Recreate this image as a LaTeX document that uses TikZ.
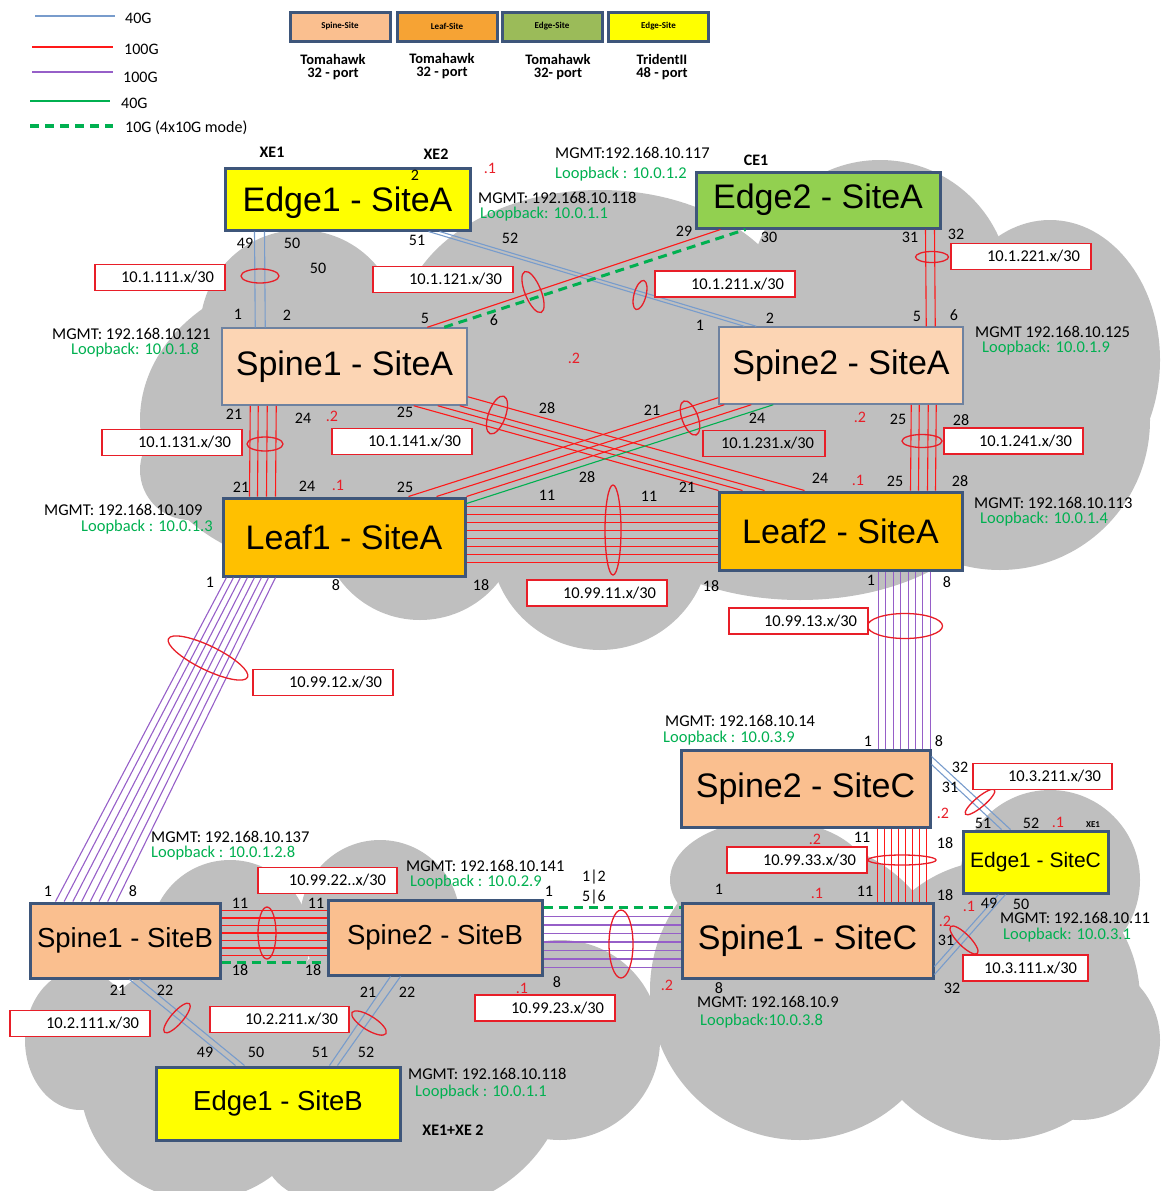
\documentclass[tikz,border=0pt]{standalone}
\usepackage{fontspec}
\setmainfont{Carlito}
\newfontfamily\devfont{Liberation Sans}
\usetikzlibrary{calc,shapes.geometric}
\definecolor{cloudgray}{RGB}{191,191,191}
\definecolor{devline}{RGB}{62,86,122}
\definecolor{devthin}{RGB}{110,130,160}
\definecolor{edgeyellow}{RGB}{255,255,0}
\definecolor{edgegreen}{RGB}{146,208,80}
\definecolor{spinelite}{RGB}{252,213,180}
\definecolor{spinepeach}{RGB}{250,191,143}
\definecolor{leaforange}{RGB}{255,192,0}
\definecolor{keyleaf}{RGB}{246,163,52}
\definecolor{keygreen}{RGB}{155,187,89}
\definecolor{link40}{RGB}{120,156,204}
\definecolor{link100}{RGB}{255,25,25}
\definecolor{linkpurple}{RGB}{150,95,200}
\definecolor{linkgreen}{RGB}{0,176,80}
\definecolor{ipred}{RGB}{232,30,40}
\definecolor{loopgreen}{RGB}{0,176,80}
\tikzset{
  dev/.style={draw=devline, line width=3pt, inner sep=0pt, font=\devfont\fontsize{34}{38}\selectfont},
  edgey/.style={dev, fill=edgeyellow},
  edgeg/.style={dev, fill=edgegreen},
  spineA/.style={dev, fill=spinelite, draw=devthin, line width=1.5pt},
  spine/.style={dev, fill=spinepeach},
  leaf/.style={dev, fill=leaforange},
  l40/.style={draw=link40, line width=1.1pt},
  l100/.style={draw=link100, line width=1.1pt},
  l100p/.style={draw=linkpurple, line width=1.1pt},
  lgreen/.style={draw=linkgreen, line width=1.1pt},
  l10g/.style={draw=linkgreen, line width=3pt, dash pattern=on 9pt off 6pt},
  bund/.style={ellipse, draw=ipred, line width=1.3pt, inner sep=0pt},
  ipbox/.style={draw=ipred, line width=1.3pt, fill=white, text width=#1, align=right,
    minimum height=26pt, inner xsep=11pt, inner ysep=0pt, font=\fontsize{16.5}{18}\selectfont},
  port/.style={inner sep=0pt, font=\fontsize{16}{18}\selectfont},
  sfx/.style={port, text=ipred},
  tag/.style={inner sep=0pt, font=\bfseries\fontsize{16}{18}\selectfont},
  mg/.style={anchor=west, inner sep=0pt, font=\fontsize{16.5}{18}\selectfont},
  lb/.style={mg, text=loopgreen},
  key/.style={anchor=west, inner sep=0pt, font=\fontsize{16}{18}\selectfont},
  keybox/.style={draw=devline, line width=3pt, minimum width=100pt, minimum height=29pt,
    inner sep=0pt, font=\bfseries\fontsize{9}{10}\selectfont},
  chip/.style={align=center, inner sep=0pt, font=\bfseries\fontsize{14.5}{13.5}\selectfont}
}

\begin{document}
\begin{tikzpicture}[x=1pt, y=-1pt]
\useasboundingbox (0,0) rectangle (1165,1191);

% clouds
\fill[cloudgray] (330,420) ellipse [x radius=190, y radius=150];
\fill[cloudgray] (300,330) circle [radius=100];
\fill[cloudgray] (190,470) circle [radius=50];
\fill[cloudgray] (420,520) circle [radius=100];
\fill[cloudgray] (520,460) circle [radius=60];
\fill[cloudgray] (600,540) circle [radius=110];
\fill[cloudgray] (600,330) ellipse [x radius=200, y radius=140];
\fill[cloudgray] (800,480) ellipse [x radius=200, y radius=120];
\fill[cloudgray] (880,290) circle [radius=130];
\fill[cloudgray] (1000,420) circle [radius=150];
\fill[cloudgray] (1050,360) ellipse [x radius=110, y radius=140];
\fill[cloudgray] (800,990) circle [radius=150];
\fill[cloudgray] (1000,1000) circle [radius=140];
\fill[cloudgray] (1050,880) circle [radius=90];
\fill[cloudgray] (770,880) ellipse [x radius=100, y radius=60];
\fill[cloudgray] (1080,1040) circle [radius=80];
\fill[cloudgray] (200,1080) circle [radius=120];
\fill[cloudgray] (420,1060) circle [radius=150];
\fill[cloudgray] (560,1040) circle [radius=100];
\fill[cloudgray] (380,920) circle [radius=80];
\fill[cloudgray] (230,940) circle [radius=80];
\fill[cloudgray] (80,1040) ellipse [x radius=55, y radius=70];
\fill[cloudgray] (320,1140) circle [radius=60];

% legend
\coordinate (k1a) at (35,16);  \coordinate (k1b) at (115,16);
\coordinate (k2a) at (32,47);  \coordinate (k2b) at (113,47);
\coordinate (k3a) at (32,72);  \coordinate (k3b) at (113,72);
\coordinate (k4a) at (30,101); \coordinate (k4b) at (110,101);
\coordinate (k5a) at (30,126); \coordinate (k5b) at (113,126);
\draw[l40, line width=2.5pt] (k1a) -- (k1b);
\draw[l100, line width=1.5pt] (k2a) -- (k2b);
\draw[l100p, line width=2.5pt] (k3a) -- (k3b);
\draw[lgreen, line width=1.5pt] (k4a) -- (k4b);
\draw[l10g, line width=4pt] (k5a) -- (k5b);
\node[key] (t1) at (125,18) {40G};
\node[key] (t2) at (124,49) {100G};
\node[key] (t3) at (123,77) {100G};
\node[key] (t4) at (121,103) {40G};
\node[key] (t5) at (125,128) {10G (4x10G mode)};

\node[keybox, fill=spinepeach] (kspine) at (340,26.5) {Spine-Site};
\node[keybox, fill=keyleaf] (kleaf) at (447,26.5) {Leaf-Site};
\node[keybox, fill=keygreen] (kedgeg) at (552,26.5) {Edge-Site};
\node[keybox, fill=edgeyellow] (kedgey) at (658.5,26.5) {Edge-Site};
\node[chip] (c1) at (333,67) {Tomahawk\\32 - port};
\node[chip] (c2) at (442,66) {Tomahawk\\32 - port};
\node[chip] (c3) at (558,67) {Tomahawk\\ 32- port};
\node[chip] (c4) at (662,67) {TridentII\\48 - port};

% devices
\node[edgey, minimum width=245pt, minimum height=62pt, text depth=0pt] (e1a) at (347.5,199) {Edge1 - SiteA};
\node[edgeg, minimum width=244pt, minimum height=56pt] (e2a) at (818,200) {Edge2 - SiteA};
\node[spineA, minimum width=245pt, minimum height=77pt] (s1a) at (344.5,366.5) {Spine1 - SiteA};
\node[spineA, minimum width=244pt, minimum height=77pt] (s2a) at (841,365.5) {Spine2 - SiteA};
\node[leaf, minimum width=242pt, minimum height=78pt] (l1a) at (344,537) {Leaf1 - SiteA};
\node[leaf, minimum width=243pt, minimum height=78pt] (l2a) at (840.5,531) {Leaf2 - SiteA};
\node[spine, minimum width=249pt, minimum height=77pt] (s2c) at (805.5,788.5) {Spine2 - SiteC};
\node[edgey, minimum width=145pt, minimum height=62pt, font=\devfont\fontsize{21}{24}\selectfont] (e1c) at (1035.5,862) {Edge1 - SiteC};
\node[spine, minimum width=251pt, minimum height=75pt] (s1c) at (807.5,940.5) {Spine1 - SiteC};
\node[spine, minimum width=190pt, minimum height=75pt, font=\devfont\fontsize{27.5}{30}\selectfont] (s1b) at (125,940.5) {Spine1 - SiteB};
\node[spine, minimum width=214pt, minimum height=75pt, font=\devfont\fontsize{27.5}{30}\selectfont] (s2b) at (435,937.5) {Spine2 - SiteB};
\node[edgey, minimum width=244pt, minimum height=73pt, font=\devfont\fontsize{27.5}{30}\selectfont] (e1b) at (278,1103.5) {Edge1 - SiteB};

% site A links
\foreach \d in {31,41}
  \draw[l40] ($(e1a.south west)+(\d,0)$) -- ($(s1a.north west)+(\d+3,0)$);
\draw[l40] ($(e1a.south west)+(205,0)$) -- ($(s2a.north west)+(26,0)$);
\draw[l40] ($(e1a.south west)+(216,0)$) -- ($(s2a.north west)+(38,0)$);
\draw[l100] ($(s1a.north west)+(206,0)$) -- ($(e2a.south west)+(26,0)$);
\draw[l10g] ($(s1a.north west)+(223,0)$) -- ($(e2a.south west)+(51,0)$);
\foreach \d in {231,240}
  \draw[l100] ($(e2a.south west)+(\d,0)$) -- ($(s2a.north west)+(\d-23,0)$);
\foreach \d in {29,37,46,55}
  \draw[l100] ($(s1a.south west)+(\d,0)$) -- ($(l1a.north west)+(\d-1,0)$);
\foreach \a/\b in {-54/1,-30/25,-8/47}
  \draw[l100] ($(s1a.south east)+(\a,0)$) -- ($(l2a.north west)+(\b,0)$);
\draw[l100] ($(s1a.south east)+(0,-9)$) -- ($(l2a.north west)+(87,0)$);
\draw[l100] ($(s2a.south west)+(0,-7)$) -- ($(l1a.north west)+(187,0)$);
\draw[l100] ($(s2a.south west)+(6,0)$) -- ($(l1a.north west)+(215,0)$);
\draw[l100] ($(s2a.south west)+(33,0)$) -- (l1a.north east);
\draw[lgreen] ($(s2a.south west)+(55,0)$) -- ($(l1a.north east)+(0,7)$);
\foreach \d in {193,201,210,218}
  \draw[l100] ($(s2a.south west)+(\d,0)$) -- ($(l2a.north west)+(\d,0)$);
\foreach \k in {0,...,7}
  \draw[l100] ($(l1a.north east)+(0,10+8*\k)$) -- ($(l2a.north west)+(0,16+8*\k)$);

% inter-site links
\foreach \k in {0,...,7}
  \draw[l100p] ($(l1a.south west)+(5+7*\k,0)$) -- ($(s1b.north west)+(27+8.7*\k,0)$);
\foreach \k in {0,...,7}
  \draw[l100p] ($(l2a.south west)+(161+7.4*\k,0)$) -- ($(s2c.north west)+(199+7.4*\k,0)$);

% site C links
\foreach \k in {0,...,7}
  \draw[l100] ($(s2c.south west)+(198+7*\k,0)$) -- ($(s1c.north west)+(197+7*\k,0)$);
\draw[l40] ($(s2c.north east)+(0,8)$) -- ($(e1c.north west)+(49,0)$);
\draw[l40] ($(s2c.north east)+(0,16)$) -- ($(e1c.north west)+(40,0)$);
\draw[l40] ($(s1c.south east)+(0,-13)$) -- ($(e1c.south west)+(37,0)$);
\draw[l40] ($(s1c.south east)+(0,-5)$) -- ($(e1c.south west)+(44,0)$);

% site B links
\foreach \k in {0,...,6}
  \draw[l100] ($(s1b.north east)+(0,9+7.5*\k)$) -- ($(s2b.north west)+(0,12+7.5*\k)$);
\draw[l10g] ($(s1b.north east)+(0,61)$) -- ($(s2b.north west)+(0,64)$);
\draw[l10g] ($(s2b.north east)+(0,9)$) -- ($(s1c.north west)+(0,6)$);
\foreach \k in {0,...,6}
  \draw[l100p] ($(s2b.north east)+(0,18+8.5*\k)$) -- ($(s1c.north west)+(0,15+8.5*\k)$);
\draw[l40] ($(s1b.south west)+(101,0)$) -- ($(e1b.north west)+(81,0)$);
\draw[l40] ($(s1b.south west)+(111,0)$) -- ($(e1b.north west)+(90,0)$);
\draw[l40] ($(s2b.south west)+(64,0)$) -- ($(e1b.north west)+(175,0)$);
\draw[l40] ($(s2b.south west)+(74,0)$) -- ($(e1b.north west)+(183,0)$);

% bundle marks
\node[bund, minimum width=38pt, minimum height=14pt] (o111) at (260,276) {};
\node[bund, minimum width=44pt, minimum height=16pt, rotate=-68] (o121) at (533,292) {};
\node[bund, minimum width=30pt, minimum height=12pt, rotate=75] (o211) at (640,295) {};
\node[bund, minimum width=33pt, minimum height=11pt] (o221) at (932,257) {};
\node[bund, minimum width=36pt, minimum height=14pt] (o131) at (265,444) {};
\node[bund, minimum width=40pt, minimum height=17pt, rotate=70] (o141) at (497,415) {};
\node[bund, minimum width=36pt, minimum height=16pt, rotate=-70] (o231) at (690,418) {};
\node[bund, minimum width=40pt, minimum height=13pt] (o241) at (922,441) {};
\node[bund, minimum width=16pt, minimum height=90pt] (o9911) at (613,530) {};
\node[bund, minimum width=88pt, minimum height=24pt, rotate=-26] (o9912) at (208,658) {};
\node[bund, minimum width=75pt, minimum height=25pt] (o9913) at (905,626) {};
\node[bund, minimum width=68pt, minimum height=10pt] (o9933) at (902,860) {};
\node[bund, minimum width=38pt, minimum height=10pt, rotate=40] (o3211) at (980,802) {};
\node[bund, minimum width=38pt, minimum height=12pt, rotate=-45] (o3111) at (964,940) {};
\node[bund, minimum width=18pt, minimum height=52pt] (o9922) at (267,933) {};
\node[bund, minimum width=24pt, minimum height=68pt] (o9923) at (621,944) {};
\node[bund, minimum width=38pt, minimum height=12pt, rotate=49] (o2111) at (177,1018) {};
\node[bund, minimum width=40pt, minimum height=14pt, rotate=-32] (o2211) at (369,1023) {};

% subnet boxes
\node[ipbox=108pt] (b111) at (160,277.5) {10.1.111.x/30};
\node[ipbox=118pt] (b121) at (443,279.5) {10.1.121.x/30};
\node[ipbox=118pt] (b211) at (725,284) {10.1.211.x/30};
\node[ipbox=118pt] (b221) at (1021,256.5) {10.1.221.x/30};
\node[ipbox=118pt] (b131) at (172,442.5) {10.1.131.x/30};
\node[ipbox=118pt] (b141) at (402,441.5) {10.1.141.x/30};
\node[ipbox=100pt, fill=none] (b231) at (764,443.5) {10.1.231.x/30};
\node[ipbox=117pt] (b241) at (1013.5,441) {10.1.241.x/30};
\node[ipbox=118pt] (b9911) at (597,593) {10.99.11.x/30};
\node[ipbox=118pt] (b9912) at (323,682.5) {10.99.12.x/30};
\node[ipbox=117pt] (b9913) at (798.5,621) {10.99.13.x/30};
\node[ipbox=117pt] (b3211) at (1042.5,776.5) {10.3.211.x/30};
\node[ipbox=118pt] (b9933) at (797,860) {10.99.33.x/30};
\node[ipbox=103pt] (b3111) at (1025.5,968) {10.3.111.x/30};
\node[ipbox=117pt] (b9922) at (327.5,880.5) {10.99.22..x/30};
\node[ipbox=118pt] (b9923) at (545,1008) {10.99.23.x/30};
\node[ipbox=118pt] (b2111) at (80,1023.5) {10.2.111.x/30};
\node[ipbox=117pt] (b2211) at (279.5,1019.5) {10.2.211.x/30};

% port numbers
\foreach \x/\y/\t [count=\i] in {245/243/49, 292/243/50, 318/268/50, 238/314/1, 287/315/2,
    417/240/51, 510/238/52, 415/175/2, 425/318/5, 494/320/6, 684/231/29, 769/237/30,
    700/325/1, 770/318/2, 910/237/31, 956/234/32, 917/316/5, 954/315/6,
    234/414/21, 303/418/24, 405/412/25, 547/408/28, 652/410/21, 757/418/24, 898/419/25, 961/420/28,
    241/487/21, 307/486/24, 405/487/25, 587/477/28, 687/487/21, 820/478/24, 895/481/25, 960/481/28,
    547/495/11, 649/496/11, 481/585/18, 711/586/18, 336/585/8, 210/582/1, 871/580/1, 947/582/8,
    868/741/1, 939/741/8, 960/767/32, 950/787/31, 983/823/51, 1031/823/52, 862/837/11, 945/843/18,
    719/889/1, 865/891/11, 945/895/18, 989/903/49, 1021/904/50, 946/940/31, 952/988/32, 719/988/8,
    48/891/1, 133/891/8, 240/903/11, 316/903/11, 240/970/18, 313/970/18, 549/891/1, 557/982/8,
    594/877/1|2, 594/897/5|6, 118/990/21, 165/990/22, 368/992/21, 407/992/22,
    205/1052/49, 256/1052/50, 320/1052/51, 366/1052/52}
  \node[port] (p\i) at (\x,\y) {\t};

% address suffixes
\foreach \x/\y/\t [count=\i] in {490/168/.1, 574/358/.2, 332/416/.2, 338/485/.1, 860/417/.2,
    858/480/.1, 943/813/.2, 1058/822/.1, 815/839/.2, 817/893/.1, 969/906/.1, 945/921/.2,
    667/985/.2, 522/988/.1}
  \node[sfx] (r\i) at (\x,\y) {\t};

% interface tags
\node[tag] (xe1) at (272,152) {XE1};
\node[tag] (xe2) at (436,154) {XE2};
\node[tag] (ce1) at (756,160) {CE1};
\node[tag, font=\bfseries\fontsize{9}{10}\selectfont] (xe1c) at (1093,825) {XE1};
\node[tag] (xe12) at (453,1130) {XE1+XE 2};

% management addresses
\node[mg] (m117) at (555,153) {MGMT:192.168.10.117};
\node[lb] (lp117) at (555,174) {Loopback : 10.0.1.2};
\node[mg] (m118) at (478,198) {MGMT: 192.168.10.118};
\node[lb] (lp118) at (480,214) {Loopback: 10.0.1.1};
\node[mg] (m121) at (52,334) {MGMT: 192.168.10.121};
\node[lb] (lp121) at (71,350) {Loopback: 10.0.1.8};
\node[mg] (m125) at (975,332) {MGMT 192.168.10.125};
\node[lb] (lp125) at (982,348) {Loopback: 10.0.1.9};
\node[mg] (m109) at (44,510) {MGMT: 192.168.10.109};
\node[lb] (lp109) at (81,527) {Loopback : 10.0.1.3};
\node[mg] (m113) at (974,503) {MGMT: 192.168.10.113};
\node[lb] (lp113) at (980,519) {Loopback: 10.0.1.4};
\node[mg] (m14) at (665,721) {MGMT: 192.168.10.14};
\node[lb] (lp14) at (663,738) {Loopback : 10.0.3.9};
\node[mg] (m137) at (151,837) {MGMT: 192.168.10.137};
\node[lb] (lp137) at (151,853) {Loopback : 10.0.1.2.8};
\node[mg] (m141) at (406,866) {MGMT: 192.168.10.141};
\node[lb] (lp141) at (410,882) {Loopback : 10.0.2.9};
\node[mg] (m11) at (1000,918) {MGMT: 192.168.10.11};
\node[lb] (lp11) at (1003,935) {Loopback: 10.0.3.1};
\node[mg] (m9) at (697,1002) {MGMT: 192.168.10.9};
\node[lb] (lp9) at (700,1021) {Loopback:10.0.3.8};
\node[mg] (m118b) at (408,1074) {MGMT: 192.168.10.118};
\node[lb] (lp118b) at (415,1092) {Loopback : 10.0.1.1};
\end{tikzpicture}
\end{document}
